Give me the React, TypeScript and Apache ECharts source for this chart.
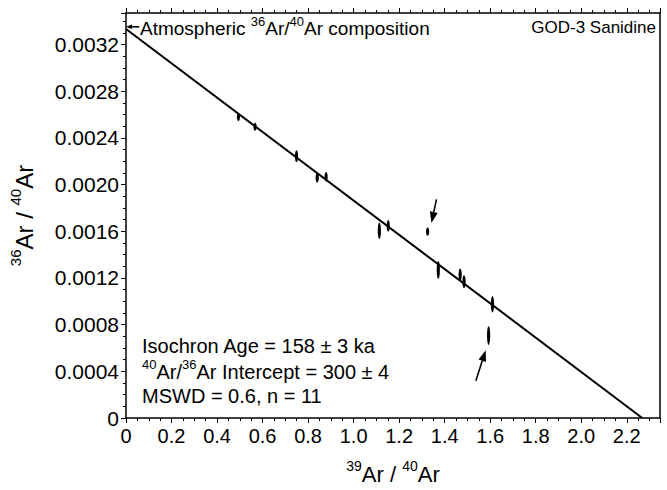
import React, { useEffect, useRef } from "react";
import * as echarts from "echarts";

// Isochron data (39Ar/40Ar, 36Ar/40Ar, half length of error in 36Ar/40Ar)
const pointX = [0.494, 0.567, 0.749, 0.84, 0.879, 1.113, 1.152, 1.372, 1.468, 1.485, 1.61];
const pointY = [0.00258, 0.002496, 0.002244, 0.002059, 0.002067, 0.001605, 0.001647, 0.001269, 0.001227, 0.001168, 0.000975];
const pointErr = [0.000034, 0.000034, 0.00005, 0.000042, 0.000042, 0.00007, 0.00005, 0.000076, 0.000055, 0.000055, 0.00007];

// rejected points (marked with arrows)
const outlierX = [1.325, 1.593];
const outlierY = [0.001597, 0.000706];
const outlierErr = [0.000035, 0.00008];

// isochron line end points
const isoX = [0, 2.268];
const isoY = [1 / 300, 0];

// arrows: from (x1,y1) to (x2,y2), head length px
const arrowX1 = [1.364, 1.537, 0.058];
const arrowY1 = [0.001874, 0.000319, 0.003353];
const arrowX2 = [1.342, 1.58, 0.0];
const arrowY2 = [0.001672, 0.00058, 0.003353];
const arrowHead = [11, 11, 6];

const xMax = 2.346;
const yMax = 0.003471;

const FONT = "'Liberation Sans', Arial, Helvetica, sans-serif";

export default function App() {
  const ref = useRef<HTMLDivElement>(null);
  useEffect(() => {
    document.body.style.margin = "0";
    if (!ref.current) return;
    const chart = echarts.init(ref.current, null, { renderer: "svg" });

    const pts = pointX.map((x, i) => [x, pointY[i], pointErr[i]]);
    const outs = outlierX.map((x, i) => [x, outlierY[i], outlierErr[i]]);
    const arrows = arrowX1.map((x, i) => [x, arrowY1[i], arrowX2[i], arrowY2[i], arrowHead[i]]);
    const iso = isoX.map((x, i) => [x, isoY[i]]);

    const ellipseRender = (params: any, api: any) => {
      const x = api.value(0), y = api.value(1), e = api.value(2);
      const c = api.coord([x, y]);
      const t = api.coord([x, y + e]);
      const ry = Math.abs(c[1] - t[1]);
      return {
        type: "ellipse",
        shape: { cx: c[0], cy: c[1], rx: 1.6, ry },
        style: { fill: "#000" },
      };
    };

    const arrowRender = (params: any, api: any) => {
      const p1 = api.coord([api.value(0), api.value(1)]);
      const p2 = api.coord([api.value(2), api.value(3)]);
      const hl = api.value(4);
      const dx = p2[0] - p1[0], dy = p2[1] - p1[1];
      const len = Math.hypot(dx, dy) || 1;
      const ux = dx / len, uy = dy / len;
      const hw = hl * 0.36;
      const bx = p2[0] - ux * hl, by = p2[1] - uy * hl;
      return {
        type: "group",
        children: [
          { type: "line", shape: { x1: p1[0], y1: p1[1], x2: bx, y2: by }, style: { stroke: "#000", lineWidth: 1.6 } },
          {
            type: "polygon",
            shape: { points: [[p2[0], p2[1]], [bx - uy * hw, by + ux * hw], [bx + uy * hw, by - ux * hw]] },
            style: { fill: "#000" },
          },
        ],
      };
    };

    const supRich = (base: number, sup: number) => ({
      b: { fontSize: base, fontFamily: FONT, color: "#000", lineHeight: base + 4, verticalAlign: "bottom" },
      sup: { fontSize: sup, fontFamily: FONT, color: "#000", lineHeight: base + 4, verticalAlign: "top" },
    });

    const tick = { show: true, inside: false, length: 5, lineStyle: { color: "#000", width: 1 } };
    const minor = { show: true, splitNumber: 4, length: 3, lineStyle: { color: "#000", width: 1 } };

    chart.setOption({
      animation: false,
      backgroundColor: "#fff",
      grid: { left: 118, right: 7, top: 13, bottom: 64, show: false },
      xAxis: [
        {
          type: "value",
          min: 0,
          max: xMax,
          interval: 0.2,
          position: "bottom",
          axisLine: { show: true, onZero: false, lineStyle: { color: "#000", width: 1.5 } },
          axisTick: tick,
          minorTick: minor,
          splitLine: { show: false },
          axisLabel: {
            color: "#000",
            fontSize: 20,
            fontFamily: FONT,
            margin: 8,
            showMaxLabel: false,
            formatter: (v: number) => (v === 0 ? "0" : v.toFixed(1)),
          },
          name: "{sup|39}{b|Ar / }{sup|40}{b|Ar}",
          nameLocation: "middle",
          nameGap: 41,
          nameTextStyle: { rich: supRich(22, 14) },
        },
        {
          type: "value",
          min: 0,
          max: xMax,
          interval: 0.2,
          position: "top",
          axisLine: { show: true, onZero: false, lineStyle: { color: "#000", width: 1.5 } },
          axisTick: tick,
          minorTick: minor,
          splitLine: { show: false },
          axisLabel: { show: false },
        },
      ],
      yAxis: [
        {
          type: "value",
          min: 0,
          max: yMax,
          interval: 0.0004,
          position: "left",
          axisLine: { show: true, onZero: false, lineStyle: { color: "#000", width: 1.5 } },
          axisTick: tick,
          minorTick: minor,
          splitLine: { show: false },
          axisLabel: {
            color: "#000",
            fontSize: 21,
            fontFamily: FONT,
            margin: 7,
            showMaxLabel: false,
            formatter: (v: number) => (v === 0 ? "0" : v.toFixed(4)),
          },
          name: "{sup|36}{b|Ar / }{sup|40}{b|Ar}",
          nameLocation: "middle",
          nameRotate: 90,
          nameGap: 90,
          nameTextStyle: { rich: supRich(24, 15) },
        },
        {
          type: "value",
          min: 0,
          max: yMax,
          position: "right",
          axisLine: { show: true, onZero: false, lineStyle: { color: "#000", width: 1.5 } },
          axisTick: { show: false },
          splitLine: { show: false },
          axisLabel: { show: false },
        },
      ],
      graphic: [
        {
          type: "text",
          left: 140,
          top: 15,
          style: {
            text: "{b|Atmospheric }{sup|36}{b|Ar/}{sup|40}{b|Ar composition}",
            rich: supRich(19, 13),
          },
        },
        {
          type: "text",
          right: 11,
          top: 19,
          style: { text: "GOD-3 Sanidine", fontSize: 17, fontFamily: FONT, fill: "#000" },
        },
        {
          type: "text",
          left: 142,
          top: 336,
          style: { text: "Isochron Age = 158 ± 3 ka", fontSize: 20, fontFamily: FONT, fill: "#000" },
        },
        {
          type: "text",
          left: 142,
          top: 358,
          style: {
            text: "{sup|40}{b|Ar/}{sup|36}{b|Ar Intercept = 300 ± 4}",
            rich: supRich(20, 13),
          },
        },
        {
          type: "text",
          left: 142,
          top: 386,
          style: { text: "MSWD = 0.6, n = 11", fontSize: 20, fontFamily: FONT, fill: "#000" },
        },
      ],
      series: [
        {
          type: "line",
          data: iso,
          symbol: "none",
          lineStyle: { color: "#000", width: 2 },
          silent: true,
        },
        {
          type: "custom",
          data: pts,
          renderItem: ellipseRender,
          silent: true,
        },
        {
          type: "custom",
          data: outs,
          renderItem: ellipseRender,
          silent: true,
        },
        {
          type: "custom",
          data: arrows,
          renderItem: arrowRender,
          clip: false,
          silent: true,
        },
      ],
    });
    return () => chart.dispose();
  }, []);
  return <div ref={ref} style={{ width: 667, height: 490 }} />;
}
